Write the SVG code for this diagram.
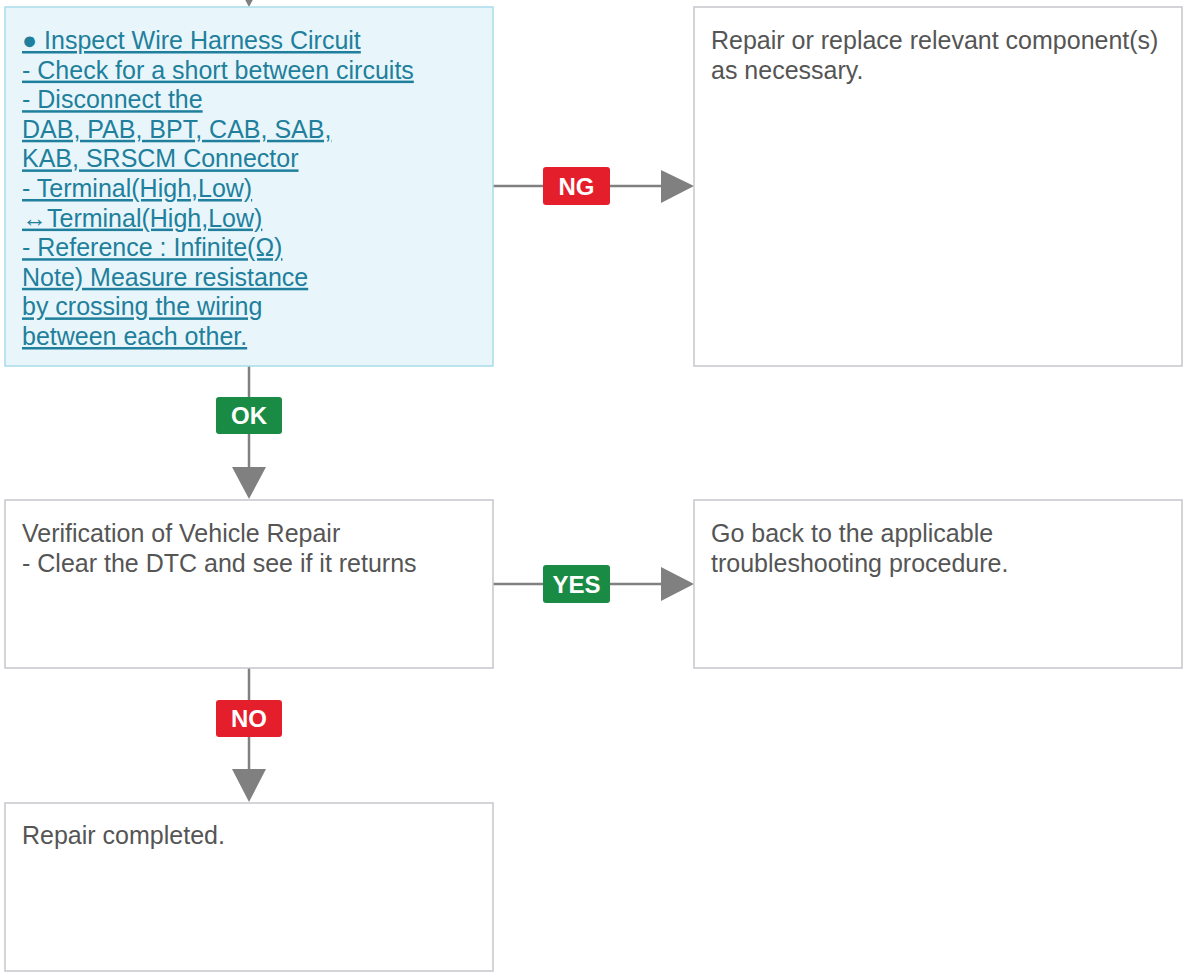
<svg xmlns="http://www.w3.org/2000/svg" width="1188" height="977" viewBox="0 0 1188 977">
<style>
  .box { fill: #ffffff; stroke: #c9c5cd; stroke-width: 1.5; }
  .boxb { fill: #e8f6fb; stroke: #a8dcea; stroke-width: 1.5; }
  .t { font-family: "Liberation Sans", Arial, sans-serif; font-size: 25px; fill: #555555; }
  .tl { font-family: "Liberation Sans", Arial, sans-serif; font-size: 25px; fill: #1f7f9c; text-decoration: underline; }
  .line { stroke: #808080; stroke-width: 2.5; fill: none; }
  .head { fill: #808080; }
  .lab { font-family: "Liberation Sans", Arial, sans-serif; font-size: 24px; font-weight: bold; fill: #ffffff; text-anchor: middle; }
  .ok { fill: #1a8b44; }
  .ng { fill: #e41e2b; }
</style>
<rect width="1188" height="977" fill="#ffffff"/>
<g id="connectors">
  <polygon class="head" points="232,-25 266,-25 249,7"/>
  <line class="line" x1="493" y1="186" x2="662" y2="186"/>
  <polygon class="head" points="661,170 661,203 694,186"/>
  <line class="line" x1="249" y1="366" x2="249" y2="468"/>
  <polygon class="head" points="232,467 266,467 249,499"/>
  <line class="line" x1="493" y1="584" x2="662" y2="584"/>
  <polygon class="head" points="661,567 661,601 694,584"/>
  <line class="line" x1="249" y1="668" x2="249" y2="770"/>
  <polygon class="head" points="232,769 266,769 249,802"/>
  <g id="label-ng">
    <rect class="ng" x="543" y="167" width="67" height="38" rx="3"/>
    <text class="lab" x="576.5" y="194.5">NG</text>
  </g>
  <g id="label-ok">
    <rect class="ok" x="216" y="397" width="66" height="37" rx="3"/>
    <text class="lab" x="249" y="424">OK</text>
  </g>
  <g id="label-yes">
    <rect class="ok" x="543" y="565" width="67" height="38" rx="3"/>
    <text class="lab" x="576.5" y="592.5">YES</text>
  </g>
  <g id="label-no">
    <rect class="ng" x="216" y="700" width="66" height="37" rx="3"/>
    <text class="lab" x="249" y="727">NO</text>
  </g>
</g>
<g id="node-inspect">
  <rect class="boxb" x="5" y="7" width="488" height="359"/>
  <text class="tl" x="22" y="49">● Inspect Wire Harness Circuit</text>
  <text class="tl" x="22" y="78.6">- Check for a short between circuits</text>
  <text class="tl" x="22" y="108.2">- Disconnect the</text>
  <text class="tl" x="22" y="137.8">DAB, PAB, BPT, CAB, SAB,</text>
  <text class="tl" x="22" y="167.4">KAB, SRSCM Connector</text>
  <text class="tl" x="22" y="197">- Terminal(High,Low)</text>
  <text class="tl" x="22" y="226.6">↔Terminal(High,Low)</text>
  <text class="tl" x="22" y="256.2">- Reference : Infinite(Ω)</text>
  <text class="tl" x="22" y="285.8">Note) Measure resistance</text>
  <text class="tl" x="22" y="315.4">by crossing the wiring</text>
  <text class="tl" x="22" y="345">between each other.</text>
</g>
<g id="node-repair">
  <rect class="box" x="694" y="7" width="488" height="359"/>
  <text class="t" x="711" y="49">Repair or replace relevant component(s)</text>
  <text class="t" x="711" y="78.6">as necessary.</text>
</g>
<g id="node-verify">
  <rect class="box" x="5" y="500" width="488" height="168"/>
  <text class="t" x="22" y="542">Verification of Vehicle Repair</text>
  <text class="t" x="22" y="572">- Clear the DTC and see if it returns</text>
</g>
<g id="node-goback">
  <rect class="box" x="694" y="500" width="488" height="168"/>
  <text class="t" x="711" y="542">Go back to the applicable</text>
  <text class="t" x="711" y="572">troubleshooting procedure.</text>
</g>
<g id="node-completed">
  <rect class="box" x="5" y="803" width="488" height="168"/>
  <text class="t" x="22" y="844">Repair completed.</text>
</g>
</svg>
